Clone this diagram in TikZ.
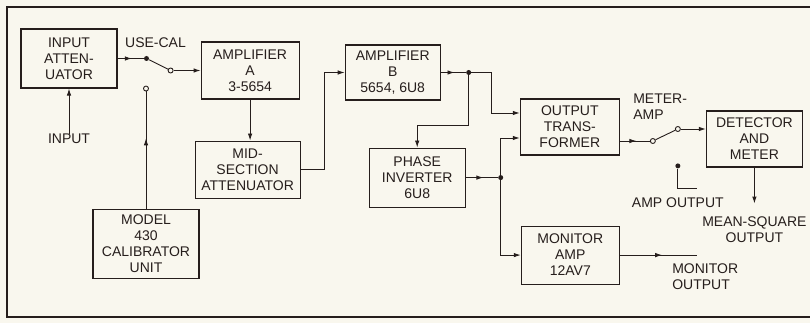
\documentclass[tikz,border=0pt]{standalone}
\usepackage{fontspec}
\setmainfont{Liberation Sans}
\usepackage{tikz}
\usetikzlibrary{arrows.meta,positioning,decorations.markings}
\definecolor{paper}{RGB}{249,247,238}
\definecolor{ink}{RGB}{38,30,28}

\begin{document}
\begin{tikzpicture}[
  font=\fontsize{14}{16}\selectfont,
  color=ink,
  line width=0.9pt,
  blk/.style={draw, line width=1.1pt, align=center, minimum width=97pt, minimum height=57pt, inner sep=2pt},
  lbl/.style={inner sep=0pt, align=center},
  dot/.style={circle, fill=ink, inner sep=0pt, minimum size=5pt},
  pole/.style={circle, draw, fill=paper, line width=0.9pt, inner sep=0pt, minimum size=5pt},
  midarrow/.style={postaction={decorate}, decoration={markings, mark=at position #1 with {\arrow{>}}}},
  midarrow/.default=0.55,
  >={Latex[length=7pt,width=4.5pt]}
]
\fill[paper] (0pt,0pt) rectangle (810pt,-323pt);
\useasboundingbox (0pt,0pt) rectangle (810pt,-323pt);
\draw[line width=1.6pt] (810pt,-7pt) -- (7pt,-7pt) -- (7pt,-317pt) -- (810pt,-317pt);

\node[blk, minimum width=96pt, minimum height=59pt] (att) at (69pt,-58.5pt) {INPUT\\ ATTEN-\\ UATOR};
\node[blk, minimum width=98pt, right=83pt of att, yshift=-12pt] (ampa) {AMPLIFIER\\ A\\ 3-5654};
\node[blk, minimum width=105pt, below=41pt of ampa, xshift=-2.5pt] (mid) {MID-\\ SECTION\\ ATTENUATOR};
\node[blk, minimum width=106pt, minimum height=69pt, below=120pt of att, xshift=77pt] (cal) {MODEL\\ 430\\ CALIBRATOR\\ UNIT};
\node[blk, minimum width=95pt, minimum height=55pt, right=45pt of ampa, yshift=-2pt] (ampb) {AMPLIFIER\\ B\\ 5654, 6U8};
\node[blk, minimum width=96pt, minimum height=59pt, below=47pt of ampb, xshift=24.5pt] (phase) {PHASE\\ INVERTER\\ 6U8};
\node[blk, minimum width=99pt, minimum height=56pt, right=79pt of ampb, yshift=-54.5pt] (outtr) {OUTPUT\\ TRANS-\\ FORMER};
\node[blk, minimum width=98pt, minimum height=58pt, below=70pt of outtr, xshift=0.5pt] (mon) {MONITOR\\ AMP\\ 12AV7};
\node[blk, minimum width=96pt, minimum height=56pt, right=86pt of outtr, yshift=-12pt] (det) {DETECTOR\\ AND\\ METER};

\node[dot, right=26pt of att] (p1) {};
\node[pole, left=27pt of ampa] (uc) {};
\node[pole] (cc) at (cal.north |- att.south) {};
\node[dot, right=25pt of ampb] (j1) {};
\node[dot, right=32pt of phase] (j2) {};
\node[pole] (ma) at ([xshift=33pt,yshift=-14pt]outtr.east) {};
\node[pole] (mc) at ([xshift=-28pt,yshift=10pt]det.west) {};
\node[dot, below=31pt of mc] (ac) {};

\node[lbl, below=45pt of att] (inp) {INPUT};
\node[lbl, above=7pt of p1, xshift=9pt] (usecal) {USE-CAL};
\node[lbl, align=left, above=18pt of ma, anchor=south west, xshift=-20pt] (meteramp) {METER-\\ AMP};
\node[lbl, below=28pt of ac] (ampout) {AMP OUTPUT};
\node[lbl, below=49pt of det] (msq) {MEAN-SQUARE\\ OUTPUT};
\node[lbl, align=left, right=52pt of mon, yshift=-21.5pt] (monout) {MONITOR\\ OUTPUT};

\coordinate (moe) at ([xshift=77pt]mon.east);
\coordinate (msqend) at ([yshift=-36pt]det.south);
\coordinate (aoend) at ([xshift=19pt,yshift=-23pt]ac.center);

\draw[->] (inp) -- (att);
\draw[midarrow] (att) -- (p1);
\draw (p1) -- (uc);
\draw[->] (uc) -- (ampa);
\draw[midarrow=0.6] (cal) -- (cc);
\draw[->] (ampa.south) -- (ampa.south |- mid.north);
\draw[->] (mid.east) -- ++(24pt,0) |- (ampb);
\draw[midarrow] (ampb) -- (j1);
\draw[->] (j1.center) -- ++(23pt,0) |- ([yshift=14pt]outtr.west);
\draw[->] (j1.center) -- ++(0,-53pt) -| (phase);
\draw[midarrow] (phase) -- (j2);
\draw[->] (j2.center) |- ([yshift=-11pt]outtr.west);
\draw[->] (j2.center) |- (mon);
\draw[midarrow] ([yshift=-14pt]outtr.east) -- (ma);
\draw (ma) -- (mc);
\draw[->] (mc) -- ([yshift=10pt]det.west);
\draw (ac) |- (aoend);
\draw[->] (det) -- (msqend);
\draw[midarrow] (mon) -- (moe);
\end{tikzpicture}
\end{document}
